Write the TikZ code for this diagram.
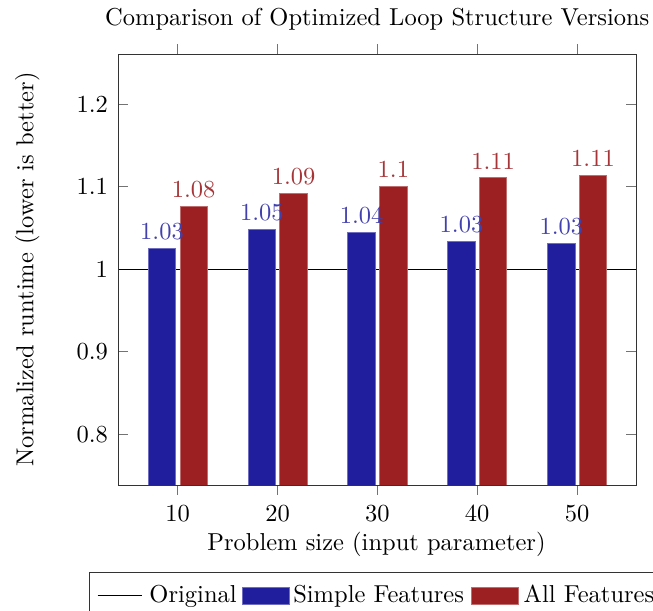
\documentclass[tikz,border=0pt]{standalone}
\definecolor{barblue}{RGB}{33,30,158}
\definecolor{barred}{RGB}{156,31,34}
\begin{document}
\begin{tikzpicture}[x=0.40816pt,y=-0.40816pt,
  axisline/.style={line width=0.4pt,draw=black!80},
  tickline/.style={line width=0.4pt,draw=black!55},
  bluebar/.style={fill=barblue,draw=barblue!65!white,line width=0.4pt},
  redbar/.style={fill=barred,draw=barred!65!white,line width=0.4pt},
  bluelab/.style={anchor=south,inner sep=3.33pt,text=barblue!85!white},
  redlab/.style={anchor=south,inner sep=3.33pt,text=barred!90!white},
  ytlab/.style={anchor=east,inner sep=3.33pt},
  xtlab/.style={anchor=base,inner sep=0pt},
  legtext/.style={anchor=base west,inner sep=0pt}]
\useasboundingbox (0,0) rectangle (653,610);
% title
\node[anchor=base,inner sep=0pt] (title) at (377.3,25) {Comparison of Optimized Loop Structure Versions};
% y ticks
\foreach \v/\yy in {1.2/104.1,1.1/186.7,1/269.3,0.9/351.9,0.8/434.5}{
  \draw[tickline] (118,\yy) -- (128.4,\yy);
  \draw[tickline] (626.3,\yy) -- (636.7,\yy);
  \node[ytlab] (yt\v) at (116.5,\yy) {\v};
}
% original line
\coordinate (o1) at (118,269.3);
\coordinate (o2) at (636.7,269.3);
\draw[line width=0.5pt,black] (o1) -- (o2);
% bars
\foreach \i/\bt/\rt/\bl/\rl in {0/248.7/206.3/1.03/1.08,1/229.3/193.7/1.05/1.09,2/232.3/186.3/1.04/1.1,3/241.7/177.7/1.03/1.11,4/243.7/175/1.03/1.11}{
  \pgfmathsetmacro\c{177.7+99.83*\i}
  \pgfmathtruncatemacro\xl{10*(\i+1)}
  \draw[tickline] (\c,43.9) -- (\c,54.3);
  \draw[tickline] (\c,485) -- (\c,495.4);
  \filldraw[bluebar] ({\c-29.4},485) rectangle ({\c-2},\bt);
  \filldraw[redbar] ({\c+2.3},485) rectangle ({\c+29.7},\rt);
  \node[bluelab] (bl\i) at ({\c-15.7},\bt) {\bl};
  \node[redlab] (rl\i) at ({\c+16},\rt) {\rl};
  \node[xtlab] (xt\i) at (\c,521.5) {\xl};
}
% axis box
\draw[axisline] (118,54.3) rectangle (636.7,485);
% axis labels
\node[anchor=base,inner sep=0pt] (xlabel) at (376.5,550.7) {Problem size (input parameter)};
\node[anchor=base,inner sep=0pt,rotate=90] (ylabel) at (33.5,269.5) {Normalized runtime (lower is better)};
% legend
\draw[axisline] (89.2,572.8) rectangle (720,650);
\coordinate (l1) at (97.6,595.5);
\coordinate (l2) at (141.6,595.5);
\draw[line width=0.5pt,black] (l1) -- (l2);
\node[legtext] (lo) at (149,602.5) {Original};
\filldraw[bluebar] (242,587.5) rectangle (289,604.7);
\node[legtext] (ls) at (292.8,602.5) {Simple Features};
\filldraw[redbar] (471.5,587.5) rectangle (518,604.7);
\node[legtext] (la) at (523.2,602.5) {All Features};
\end{tikzpicture}
\end{document}
